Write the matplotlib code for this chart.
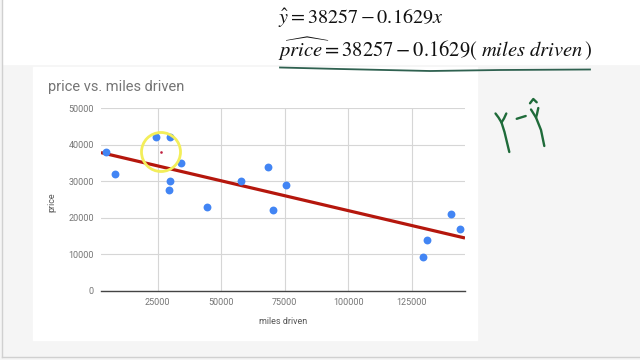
import numpy as np
import matplotlib
matplotlib.use("Agg")
import matplotlib.pyplot as plt
from matplotlib.patches import Rectangle, Circle

plt.rcParams['mathtext.fontset'] = 'stix'

## data

miles = [4500, 8300, 24200, 29800, 34000, 29800, 29300, 44300,
         58000, 68300, 75400, 70500, 129300, 131000, 140600, 144000]
price = [38000, 32000, 42000, 42000, 35000, 30000, 27500, 23000,
         30000, 34000, 29000, 22000, 9400, 14000, 21000, 17000]

b0 = 38257
b1 = -0.1629
x_range = [2700, 146000]

x_ticks = [25000, 50000, 75000, 100000, 125000]
y_ticks = [0, 10000, 20000, 30000, 40000, 50000]

## figure

fig = plt.figure(figsize=(6.4, 3.6), dpi=100)
fig.patch.set_facecolor('#f5f5f5')

# background in pixel coords
bg = fig.add_axes([0, 0, 1, 1], zorder=-10)
bg.set_xlim(0, 640)
bg.set_ylim(360, 0)
bg.axis('off')
bg.add_patch(Rectangle((3, 0), 637, 64, color='white'))
bg.add_patch(Rectangle((33, 67), 444, 273, color='white'))
bg.plot([2, 2], [0, 357], color='#d0d0d0', lw=1)
bg.plot([2, 640], [357, 357], color='#d0d0d0', lw=1)

## chart

ax = fig.add_axes([101 / 640, 1 - 291 / 360, 364 / 640, 183 / 360], zorder=1)
ax.set_facecolor('white')

xs = np.array(x_range)
ax.plot(xs, b0 + b1 * xs, color='#b5170d', lw=2.3, zorder=3, solid_capstyle='butt')
ax.scatter(miles, price, s=32, color='#4285f4', zorder=4, linewidths=0)

ax.set_xlim(x_range)
ax.set_ylim(0, 50000)
ax.set_xticks(x_ticks)
ax.set_yticks(y_ticks)
ax.grid(True, color='#d6d6d6', lw=0.8)
ax.set_axisbelow(True)
for s in ['top', 'right', 'left']:
    ax.spines[s].set_visible(False)
ax.spines['bottom'].set_color('#444444')
ax.spines['bottom'].set_linewidth(1)
ax.tick_params(length=0, labelsize=6.5, labelcolor='#757575', pad=5)
for lab in ax.get_xticklabels() + ax.get_yticklabels():
    lab.set_family('Roboto')

# titles
fig.text(48 / 640, 1 - 87 / 360, 'price vs. miles driven', family='Roboto',
         fontsize=10.5, color='#757575', va='center', ha='left')
fig.text(283 / 640, 1 - 322 / 360, 'miles driven', family='Roboto',
         fontsize=6.5, color='#555555', ha='center', va='center')
fig.text(52 / 640, 1 - 202 / 360, 'price', family='Roboto', rotation=90,
         fontsize=6.5, color='#555555', ha='center', va='center')

## overlay: equations and pen marks

ov = fig.add_axes([0, 0, 1, 1], zorder=10)
ov.set_xlim(0, 640)
ov.set_ylim(360, 0)
ov.axis('off')
ov.patch.set_alpha(0)

ov.text(278, 18, r'$\hat{y}=38257-0.1629x$', fontsize=14.5,
        color='#111111', va='center', ha='left')
ov.text(278, 49, r'$\widehat{price}=38257-0.1629(\ miles\ driven\,)$', fontsize=14.8,
        color='#111111', va='center', ha='left')

ov.plot([280, 340, 430, 500, 590], [67.5, 69, 71, 70, 69.5], color='#2f6150', lw=1.3)

ov.add_patch(Circle((161, 152), 19.5, fill=False, ec='#f3ee5a', lw=2))
ov.plot([161], [152], 's', ms=0.8, color='#c02040')

green = '#1f6b3a'
strokes = [
    ([495.5, 498.5, 501.5, 504.5, 509.3], [113.5, 117.5, 122.5, 132, 152]),
    ([506.3, 504, 501.5], [113.5, 118.5, 122.5]),
    ([516.7, 525.7], [118.8, 116]),
    ([530, 533.3, 536.7], [103.3, 99, 102.3]),
    ([531, 533.5, 536, 541, 544.3], [109.5, 113.5, 117.5, 130, 146]),
    ([538.3, 537, 536], [108, 114, 117.5]),
]
for sx, sy in strokes:
    ov.plot(sx, sy, color=green, lw=1.7, solid_capstyle='round')

fig.savefig('out.png', dpi=100, facecolor=fig.get_facecolor())
